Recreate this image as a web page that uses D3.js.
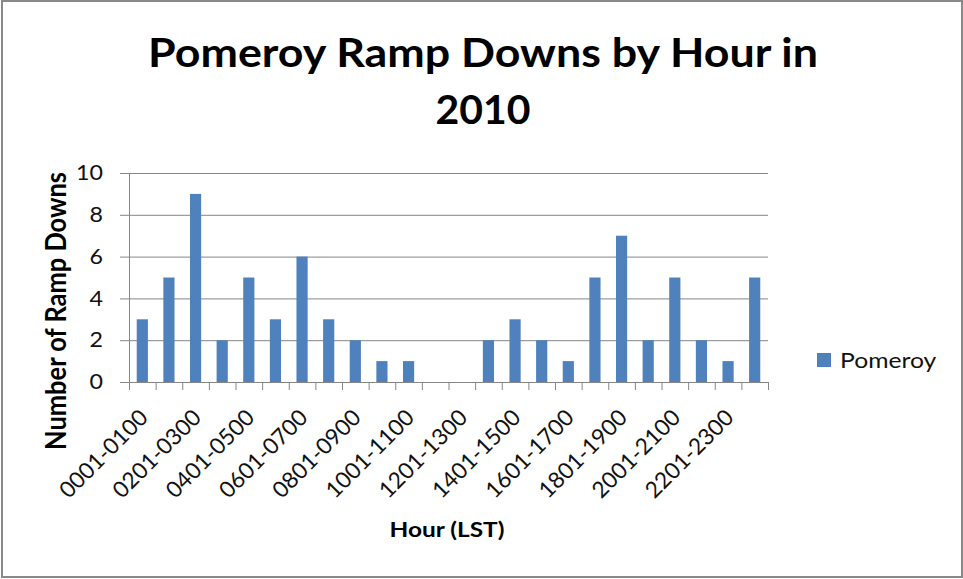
<!DOCTYPE html>
<html><head><meta charset="utf-8">
<script src="https://cdn.jsdelivr.net/npm/d3@7"></script>
<style>body{margin:0;background:#fff}svg{display:block}</style>
</head><body><svg id="c" width="963" height="579"></svg>
<script>
const categories = ["0001-0100","0101-0200","0201-0300","0301-0400","0401-0500","0501-0600",
  "0601-0700","0701-0800","0801-0900","0901-1000","1001-1100","1101-1200",
  "1201-1300","1301-1400","1401-1500","1501-1600","1601-1700","1701-1800",
  "1801-1900","1901-2000","2001-2100","2101-2200","2201-2300","2301-2400"];
const values = [3,5,9,2,5,3,6,3,2,1,1,0,0,2,3,2,1,5,7,2,5,2,1,5];
const seriesName = "Pomeroy";
const yTicks = [0,2,4,6,8,10];
const titleLines = ["Pomeroy Ramp Downs by Hour in","2010"];
const yTitle = "Number of Ramp Downs";
const xTitle = "Hour (LST)";

const FONT = "Lato, 'Open Sans', sans-serif";
const BAR = "#4F81BD", GRID = "#868686";
const plot = {left:129, right:768, top:173, bottom:382};
const svg = d3.select("#c");

function fitX(sel, target, ax, ay) {
  const w = sel.node().getBBox().width;
  const s = target / w;
  sel.attr("transform", `translate(${ax},${ay||0}) scale(${s},1) translate(${-ax},${-(ay||0)})`);
}

svg.append("rect").attr("x",2).attr("y",1).attr("width",960).attr("height",576)
  .attr("fill","#fff").attr("stroke","#898989").attr("stroke-width",2);

const y = d3.scaleLinear().domain([0,10]).range([plot.bottom, plot.top]);
const x = d3.scaleBand().domain(categories).range([plot.left, plot.right])
  .paddingInner(0.58).paddingOuter(0.29);
const xPos = d3.scaleLinear().domain([0, categories.length]).range([plot.left, plot.right]);

// gridlines
svg.append("g").attr("transform",`translate(${plot.left},0)`)
  .call(d3.axisLeft(y).tickValues(yTicks.slice(1)).tickSize(-(plot.right-plot.left)).tickFormat(""))
  .call(g=>{g.select(".domain").remove(); g.selectAll("line").attr("stroke",GRID).attr("stroke-width",1);});

// bars
svg.append("g").selectAll("rect").data(values).join("rect")
  .attr("x",(d,i)=>x(categories[i]))
  .attr("y",d=>y(d))
  .attr("width",x.bandwidth())
  .attr("height",d=>y(0)-y(d))
  .attr("fill",BAR);

// y axis
const ya = svg.append("g").attr("transform",`translate(${plot.left},0)`)
  .call(d3.axisLeft(y).tickValues(yTicks).tickSize(9).tickPadding(17));
ya.select(".domain").attr("stroke",GRID);
ya.selectAll("line").attr("stroke",GRID);
const ytx = ya.selectAll("text").attr("font-family",FONT).attr("font-size",21).attr("fill","#111");
let tenW = 0;
ytx.each(function(d){ if (d===10) tenW = this.getBBox().width; });
const ys = 27 / tenW;
ytx.attr("transform",`translate(-26,0) scale(${ys},1) translate(26,0)`);

// x axis (ticks between categories)
const xa = svg.append("g").attr("transform",`translate(0,${plot.bottom})`)
  .call(d3.axisBottom(xPos).tickValues(d3.range(categories.length+1)).tickSize(8).tickFormat(""));
xa.select(".domain").attr("stroke",GRID);
xa.selectAll("line").attr("stroke",GRID);

// x labels (every other category)
const xl = svg.append("g").selectAll("text").data(categories.filter((d,i)=>i%2===0)).join("text")
  .attr("text-anchor","end").attr("dominant-baseline","central")
  .attr("font-family",FONT).attr("font-size",22.5).attr("fill","#111")
  .text(d=>d);
const xlW = xl.node().getBBox().width;
const xls = 114 / xlW;
xl.attr("transform",d=>`translate(${x(d)+x.bandwidth()/2+1},413) rotate(-45) scale(${xls},1)`);

// title
titleLines.forEach((t,i)=>{
  const el = svg.append("text").attr("x",483).attr("y",i===0?67:124)
    .attr("text-anchor","middle").attr("font-family",FONT).attr("font-weight","bold")
    .attr("font-size",40).attr("fill","#000").text(t);
  fitX(el, i===0?670:95, 483);
});

// y title
const yt = svg.append("text").attr("text-anchor","middle").attr("font-family",FONT)
  .attr("font-weight","bold").attr("font-size",26).attr("fill","#000").text(yTitle);
const yw = yt.node().getBBox().width;
const yfs = 26*278/yw;
yt.attr("font-size",yfs);
const ysx = 20/(0.72*yfs);
yt.attr("transform",`translate(66,311) scale(${ysx},1) rotate(-90)`);

// x title
const xt = svg.append("text").attr("x",447).attr("y",537).attr("text-anchor","middle")
  .attr("font-family",FONT).attr("font-weight","bold").attr("font-size",21).attr("fill","#000").text(xTitle);
fitX(xt, 115, 447);

// legend
svg.append("rect").attr("x",817).attr("y",353).attr("width",14).attr("height",14).attr("fill",BAR);
const lt = svg.append("text").attr("x",840).attr("y",368).attr("font-family",FONT)
  .attr("font-size",22).attr("fill","#111").text(seriesName);
fitX(lt, 97, 840);
</script></body></html>
